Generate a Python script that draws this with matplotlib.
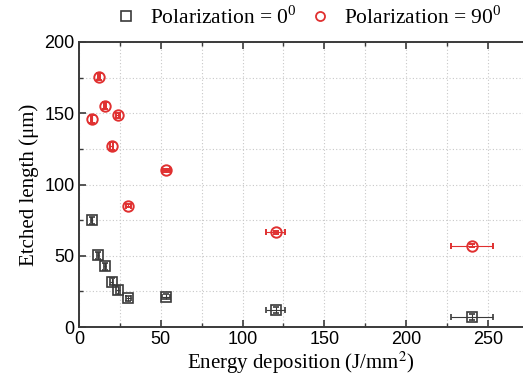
import matplotlib
matplotlib.use("Agg")
import matplotlib.pyplot as plt
from matplotlib.ticker import MultipleLocator
from matplotlib.lines import Line2D

plt.rcParams["mathtext.fontset"] = "stix"

# Data
energy = [7.7, 11.8, 15.9, 20.0, 24.0, 30.2, 53.2, 120.2, 240.4]
energy_err = [0.4, 0.6, 0.8, 1.0, 1.2, 1.5, 2.7, 6.0, 13.0]
len_pol0 = [74.9, 50.3, 42.6, 31.8, 26.0, 20.1, 21.3, 11.7, 6.8]
len_pol0_err = [2.5, 2.5, 2.5, 2.5, 2.5, 2.0, 2.0, 2.0, 2.0]
energy90 = [7.7, 12.2, 15.9, 20.0, 24.0, 30.2, 53.2, 120.2, 240.4]
len_pol90 = [146.0, 175.6, 155.3, 127.0, 148.5, 85.0, 110.0, 66.4, 57.0]
len_pol90_err = [2.5, 2.5, 2.5, 2.5, 2.0, 1.0, 1.0, 1.0, 1.0]

serif = ["Liberation Serif", "DejaVu Serif"]
sans = ["Liberation Sans", "DejaVu Sans"]
dark = "#3a3a3a"
red = "#e03030"

fig = plt.figure(figsize=(5.23, 3.86), dpi=100)
ax = fig.add_axes([79/523, 1-327/386, 1-79/523, (327-42)/386])

ax.errorbar(energy, len_pol0, xerr=energy_err, yerr=len_pol0_err, fmt="s",
            mfc="none", mec=dark, ms=6.5, mew=1.2, ecolor=dark,
            elinewidth=0.8, capsize=2.5, capthick=0.8, zorder=3)
ax.errorbar(energy90, len_pol90, xerr=energy_err, yerr=len_pol90_err, fmt="o",
            mfc="none", mec=red, ms=7.5, mew=1.4, ecolor=red,
            elinewidth=0.8, capsize=2.5, capthick=0.8, zorder=3)

ax.set_xlim(0, 271.5)
ax.set_ylim(0, 200)
ax.xaxis.set_major_locator(MultipleLocator(50))
ax.xaxis.set_minor_locator(MultipleLocator(25))
ax.yaxis.set_major_locator(MultipleLocator(50))
ax.yaxis.set_minor_locator(MultipleLocator(25))
ax.grid(True, which="both", linestyle=(0, (1, 2)), color="#c8c8c8", linewidth=0.8, zorder=0)
ax.set_axisbelow(True)
ax.tick_params(which="both", direction="in", top=True, right=False, color=dark, pad=3)
ax.tick_params(which="major", length=5, width=1.2)
ax.tick_params(which="minor", length=3, width=1.0)
for lbl in ax.get_xticklabels() + ax.get_yticklabels():
    lbl.set_family(sans)
    lbl.set_fontsize(13)
for s in ["left", "bottom", "top"]:
    ax.spines[s].set_color(dark)
    ax.spines[s].set_linewidth(1.4)
ax.spines["right"].set_visible(False)

ax.set_xlabel("Energy deposition (J/mm$^2$)", fontfamily=serif, fontsize=15, labelpad=1)
ax.set_ylabel("Etched length (μm)", fontfamily=serif, fontsize=15, labelpad=4)

h0 = Line2D([], [], marker="s", ls="none", mfc="none", mec=dark, ms=6.5, mew=1.2)
h90 = Line2D([], [], marker="o", ls="none", mfc="none", mec=red, ms=6.5, mew=1.3)
fig.legend([h0, h90], ["Polarization = 0$^{\\mathregular{0}}$", "Polarization = 90$^{\\mathregular{0}}$"],
           loc="center", bbox_to_anchor=(0.59, 0.955), ncol=2, frameon=False,
           prop={"family": serif, "size": 15.5}, handletextpad=0.6, columnspacing=0.6,
           handlelength=1.0)

fig.savefig("out.png", dpi=100)
